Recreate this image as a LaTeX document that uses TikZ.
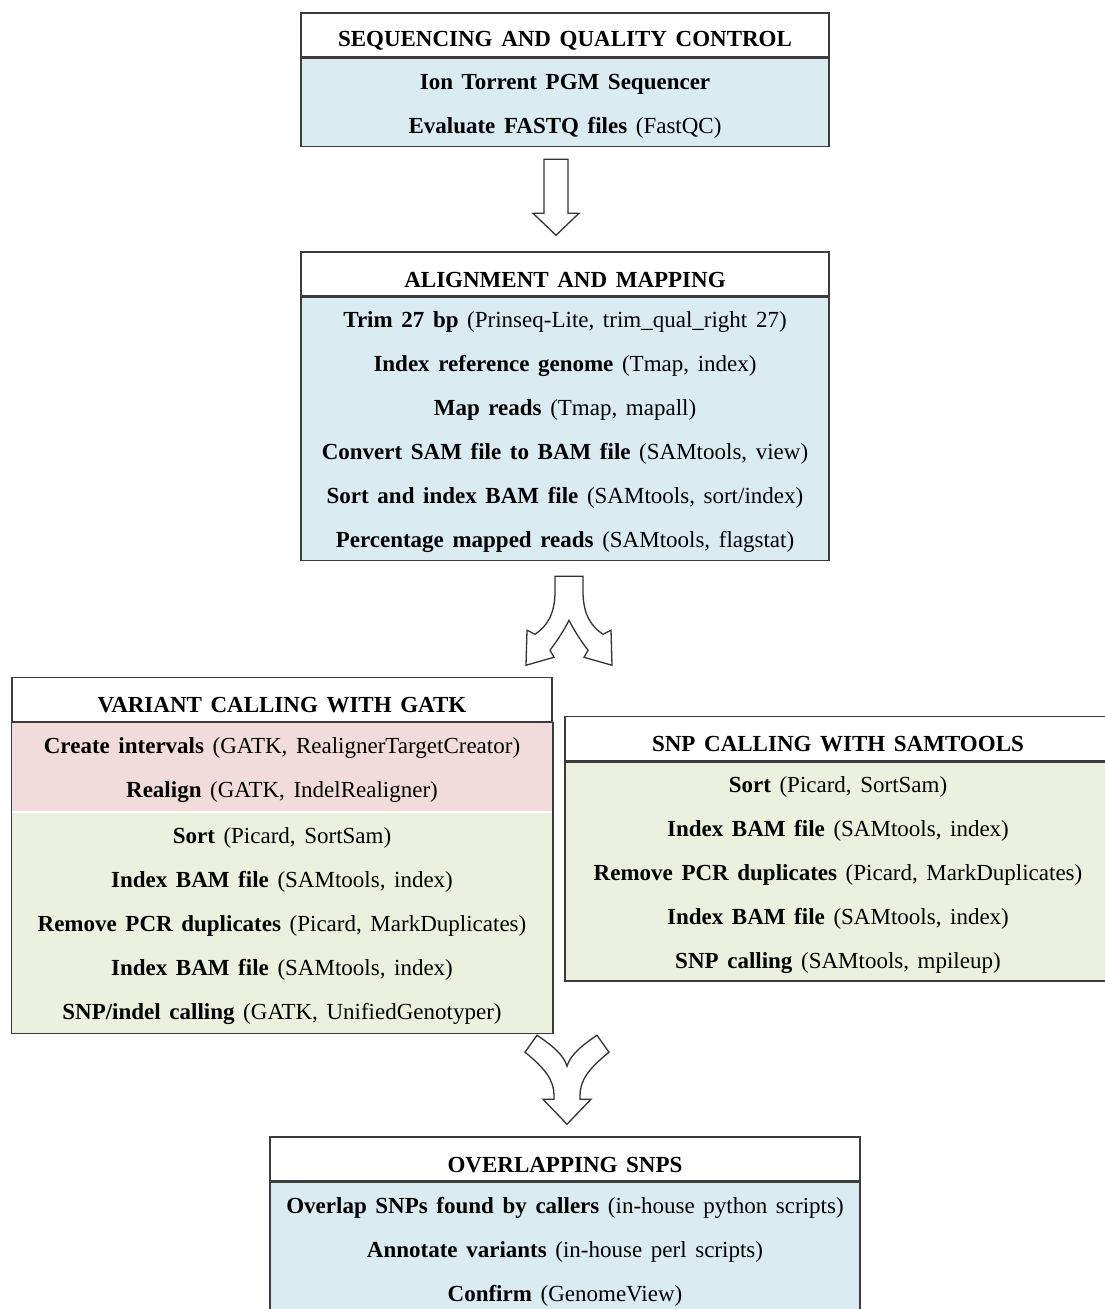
\documentclass[tikz,border=0pt]{standalone}
\usepackage{fontspec}
\setmainfont{Liberation Serif}[WordSpace=1.5]
\usepackage{tikz}
\usetikzlibrary{positioning}
\usetikzlibrary{calc}

\definecolor{boxline}{RGB}{60,60,60}
\definecolor{bluefill}{RGB}{218,236,242}
\definecolor{pinkfill}{RGB}{242,220,219}
\definecolor{greenfill}{RGB}{235,241,222}

\newcommand{\toprow}{\rule{0pt}{23pt}}

\tikzset{
  head/.style={draw=boxline,line width=1.5pt,fill=white,rectangle,inner sep=0pt,
    minimum height=44pt,font=\fontsize{23}{28}\selectfont\bfseries,
    execute at begin node=\rule{0pt}{27pt}},
  body/.style={draw=boxline,line width=1.5pt,rectangle,inner sep=0pt,align=center,
    font=\fontsize{23}{44}\selectfont},
  blockarrow/.style={draw=black!80,line width=1.3pt,fill=white,line join=miter}
}

\begin{document}
\begin{tikzpicture}[x=1pt,y=-1pt]
\useasboundingbox (0,0) rectangle (1104,1309);

% sequencing
\node[head,minimum width=528pt] (seqH) at (565,35) {SEQUENCING AND QUALITY CONTROL};
\node[body,fill=bluefill,minimum width=528pt,minimum height=88pt,below=0pt of seqH] (seqB)
  {\toprow\textbf{Ion Torrent PGM Sequencer}\\
   \textbf{Evaluate FASTQ files} (FastQC)};

% alignment
\node[head,minimum width=528pt] (alnH) at (565,274) {ALIGNMENT AND MAPPING};
\node[body,fill=bluefill,minimum width=528pt,minimum height=263pt,below=0pt of alnH] (alnB)
  {\toprow\textbf{Trim 27 bp} (Prinseq-Lite, trim\_qual\_right 27)\\
   \textbf{Index reference genome} (Tmap, index)\\
   \textbf{Map reads} (Tmap, mapall)\\
   \textbf{Convert SAM file to BAM file} (SAMtools, view)\\
   \textbf{Sort and index BAM file} (SAMtools, sort/index)\\
   \textbf{Percentage mapped reads} (SAMtools, flagstat)};

% gatk
\node[head,minimum width=540pt] (gatkH) at (282,699.5) {VARIANT CALLING WITH GATK};
\node[body,draw=none,fill=pinkfill,minimum width=540pt,minimum height=88pt,below=0pt of gatkH] (gatkP)
  {\toprow\textbf{Create intervals} (GATK, RealignerTargetCreator)\\
   \textbf{Realign} (GATK, IndelRealigner)};
\node[body,draw=none,fill=greenfill,minimum width=540pt,minimum height=220pt,below=0pt of gatkP] (gatkG)
  {\toprow\textbf{Sort} (Picard, SortSam)\\
   \textbf{Index BAM file} (SAMtools, index)\\
   \textbf{Remove PCR duplicates} (Picard, MarkDuplicates)\\
   \textbf{Index BAM file} (SAMtools, index)\\
   \textbf{SNP/indel calling} (GATK, UnifiedGenotyper)};
\draw[boxline,line width=1.5pt] (gatkP.north west) rectangle (gatkG.south east);

% samtools
\node[head,minimum width=546pt] (samH) at (838,738.5) {SNP CALLING WITH SAMTOOLS};
\node[body,fill=greenfill,minimum width=546pt,minimum height=219pt,below=0pt of samH] (samB)
  {\toprow\textbf{Sort} (Picard, SortSam)\\
   \textbf{Index BAM file} (SAMtools, index)\\
   \textbf{Remove PCR duplicates} (Picard, MarkDuplicates)\\
   \textbf{Index BAM file} (SAMtools, index)\\
   \textbf{SNP calling} (SAMtools, mpileup)};

% overlap
\node[head,minimum width=590pt] (ovlH) at (565,1159) {OVERLAPPING SNPS};
\node[body,fill=bluefill,minimum width=590pt,minimum height=132pt,below=0pt of ovlH] (ovlB)
  {\toprow\textbf{Overlap SNPs found by callers} (in-house python scripts)\\
   \textbf{Annotate variants} (in-house perl scripts)\\
   \textbf{Confirm} (GenomeView)};

% arrows
\coordinate (arrA) at ($(seqB.south)+(-9,12)$);
\draw[blockarrow,shift={(arrA)}] (-12,0) -- (12,0) -- (12,54) -- (23,54) -- (0,76)
  -- (-23,54) -- (-12,54) -- cycle;

\coordinate (arrB) at ($(alnB.south)+(4,15)$);
\draw[blockarrow,shift={(arrB)}] (-14,0) -- (14,0) -- (14,15)
  .. controls (14,38) and (22,50) .. (34,58) -- (42,54) -- (43,89) -- (15,81) -- (19,74)
  .. controls (10,62) and (4,52) .. (0,44)
  .. controls (-4,52) and (-10,62) .. (-19,74) -- (-15,81) -- (-43,89) -- (-42,54)
  -- (-34,58) .. controls (-22,50) and (-14,38) .. (-14,15) -- cycle;

\coordinate (arrC) at ($(ovlH.north)+(2,-101)$);
\draw[blockarrow,shift={(arrC)}] (-30,0) .. controls (-15,10) and (-3,20) .. (0,31)
  .. controls (3,20) and (15,10) .. (30,0) -- (42,17)
  .. controls (22,33) and (13,45) .. (13,60) -- (13,64) -- (24,64) -- (0,89)
  -- (-24,64) -- (-13,64) -- (-13,60)
  .. controls (-13,45) and (-22,33) .. (-42,17) -- cycle;
\end{tikzpicture}
\end{document}
